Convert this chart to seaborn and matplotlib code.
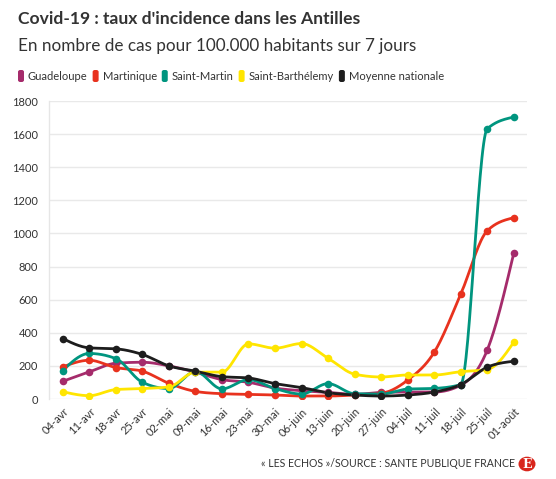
import numpy as np
import pandas as pd
import matplotlib
matplotlib.use("Agg")
import matplotlib.pyplot as plt
import seaborn as sns
from matplotlib.patches import FancyBboxPatch, Circle

dates = ["04-avr", "11-avr", "18-avr", "25-avr", "02-mai", "09-mai", "16-mai", "23-mai",
         "30-mai", "06-juin", "13-juin", "20-juin", "27-juin", "04-juil", "11-juil",
         "18-juil", "25-juil", "01-août"]
guadeloupe = [107, 164, 216, 222, 200, 162, 117, 101, 66, 50, 40, 28, 40, 42, 42, 83, 295, 880]
martinique = [194, 234, 190, 168, 95, 46, 32, 28, 24, 18, 18, 24, 34, 114, 282, 632, 1016, 1095]
saint_martin = [172, 275, 244, 101, 63, 166, 61, 117, 63, 30, 93, 32, 30, 60, 64, 87, 1632, 1703]
saint_barth = [44, 20, 57, 63, 73, 162, 162, 333, 307, 335, 246, 150, 133, 145, 145, 165, 178, 343]
moyenne = [365, 309, 303, 269, 200, 168, 135, 127, 93, 69, 38, 24, 18, 24, 42, 87, 192, 228]

series_names = ["Guadeloupe", "Martinique", "Saint-Martin", "Saint-Barthélemy", "Moyenne nationale"]
series_values = [guadeloupe, martinique, saint_martin, saint_barth, moyenne]
colors = ["#a52b6b", "#e8321e", "#00957f", "#ffe500", "#1d1d1d"]
y_ticks = [0, 200, 400, 600, 800, 1000, 1200, 1400, 1600, 1800]


def monotone_curve(y, n=30):
    """Monotone cubic (d3 curveMonotoneX style) rendering of a polyline."""
    y = np.asarray(y, dtype=float)
    x = np.arange(len(y), dtype=float)
    h = np.diff(x)
    s = np.diff(y) / h
    m = np.zeros_like(y)
    for i in range(1, len(y) - 1):
        s0, s1 = s[i - 1], s[i]
        p = (s0 * h[i] + s1 * h[i - 1]) / (h[i - 1] + h[i])
        m[i] = (np.sign(s0) + np.sign(s1)) * min(abs(s0), abs(s1), 0.5 * abs(p))
    m[0] = (3 * s[0] - m[1]) / 2
    m[-1] = (3 * s[-1] - m[-2]) / 2
    xs, ys = [], []
    for i in range(len(y) - 1):
        t = np.linspace(0, 1, n, endpoint=(i == len(y) - 2))
        h00 = 2 * t**3 - 3 * t**2 + 1
        h10 = t**3 - 2 * t**2 + t
        h01 = -2 * t**3 + 3 * t**2
        h11 = t**3 - t**2
        xs.append(x[i] + t * h[i])
        ys.append(h00 * y[i] + h10 * h[i] * m[i] + h01 * y[i + 1] + h11 * h[i] * m[i + 1])
    return np.concatenate(xs), np.concatenate(ys)


sns.set_theme(style="white")
plt.rcParams["font.family"] = ["Lato", "DejaVu Sans"]

W, H = 556, 479
fig = plt.figure(figsize=(W / 100, H / 100), dpi=100)
ax = fig.add_axes([49 / W, 1 - 399 / H, (527 - 49) / W, (399 - 101) / H])

for name, vals, col in zip(series_names, series_values, colors):
    cx, cy = monotone_curve(vals)
    sns.lineplot(x=cx, y=cy, ax=ax, color=col, linewidth=2.0, sort=False,
                 estimator=None, legend=False)
    sns.scatterplot(x=np.arange(len(vals)), y=vals, ax=ax, color=col, s=30,
                    edgecolor=col, linewidth=0, legend=False, zorder=5)

ax.set_xlim(-0.52, len(dates) - 1 + 0.5)
ax.set_ylim(0, 1800)
ax.set_yticks(y_ticks)
ax.set_yticklabels([str(v) for v in y_ticks], fontsize=8, color="#333333")
ax.set_xticks(range(len(dates)))
ax.set_xticklabels(dates, rotation=45, ha="right", rotation_mode="anchor",
                   fontsize=8, color="#333333")
ax.grid(axis="y", color="#e9e9e9", linewidth=1)
ax.grid(axis="x", visible=False)
for sp in ["top", "right", "bottom"]:
    ax.spines[sp].set_visible(False)
ax.spines["left"].set_color("#e6e6e6")
ax.spines["left"].set_linewidth(1)
ax.tick_params(axis="y", length=0, pad=8)
ax.tick_params(axis="x", length=0, pad=5)
ax.set_axisbelow(True)
ax.set_xlabel("")
ax.set_ylabel("")

# Titles
fig.text(18 / W, 1 - 24 / H, "Covid-19 : taux d'incidence dans les Antilles",
         fontsize=12.6, fontweight="bold", color="#333333", ha="left", va="baseline")
fig.text(18 / W, 1 - 51 / H, "En nombre de cas pour 100.000 habitants sur 7 jours",
         fontsize=12.3, color="#333333", ha="left", va="baseline")

# Legend
lx = 18
for name, col in zip(series_names, colors):
    box = FancyBboxPatch(((lx) / W, 1 - 82 / H), 6 / W, 12 / H,
                         boxstyle="round,pad=0,rounding_size=0.004",
                         transform=fig.transFigure, facecolor=col, edgecolor="none")
    fig.patches.append(box)
    t = fig.text((lx + 10) / W, 1 - 76 / H, name, fontsize=8, color="#333333",
                 ha="left", va="center")
    fig.canvas.draw()
    bb = t.get_window_extent()
    lx = bb.x1 + 5

# Footer
fig.text(515 / W, 1 - 467 / H, "« LES ECHOS »/SOURCE : SANTE PUBLIQUE FRANCE",
         fontsize=7.6, color="#333333", ha="right", va="baseline")
fig.patches.append(Circle((527 / W, 1 - 464 / H), 8.5 / W, transform=fig.transFigure,
                          facecolor="#d8261c", edgecolor="none"))
fig.text(527 / W, 1 - 464 / H, "E", fontsize=9, fontweight="bold", color="white",
         family="DejaVu Serif", ha="center", va="center")

fig.savefig("out.png", dpi=100, facecolor="white")
